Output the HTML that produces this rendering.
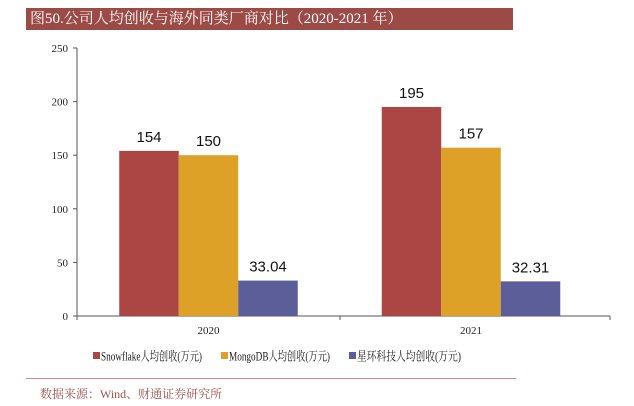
<!DOCTYPE html>
<html><head><meta charset="utf-8"><style>
body{margin:0;width:634px;height:406px;background:#fff;overflow:hidden;font-family:"Liberation Serif","Noto Serif CJK SC",serif;position:relative}
#title{position:absolute;left:26px;top:8px;width:487px;height:22px;background:#9b4a46;color:#fff;font-size:15px;line-height:22px;padding-left:4px;box-sizing:border-box}
#rule{position:absolute;left:26px;top:378px;width:490px;height:0;border-top:1px solid #c98b87}
#src{position:absolute;left:40px;top:385px;font-size:12px;color:#a0504a}
</style></head><body>
<div id="title">图50.公司人均创收与海外同类厂商对比（2020-2021 年）</div>
<svg id="chart" width="634" height="406" style="position:absolute;left:0;top:0"></svg>
<div id="rule"></div>
<div id="src">数据来源：Wind、财通证券研究所</div>
<script>
const categories=["2020","2021"];
const seriesNames=["Snowflake人均创收(万元)","MongoDB人均创收(万元)","星环科技人均创收(万元)"];
const snowflake=[154,195];
const mongodb=[150,157];
const xinghuan=[33.04,32.31];
const valueLabels=[["154","150","33.04"],["195","157","32.31"]];
const yTicks=[0,50,100,150,200,250];
const colors=["#ac4644","#dca126","#5b5e99"];
const NS="http://www.w3.org/2000/svg";
const svg=document.getElementById('chart');
const x0=77,x1=610,y0=316,yTop=48,yMax=250;
const y=v=>y0-(v/yMax)*(y0-yTop);
const cx=i=>208.5+i*262.5;
const bw=59.5;
function mk(t,a){const e=document.createElementNS(NS,t);for(const k in a)e.setAttribute(k,a[k]);svg.appendChild(e);return e;}
let e=mk('line',{x1:x0,y1:yTop,x2:x0,y2:y0,stroke:'#555'});


e=mk('line',{x1:x0,y1:y0,x2:x1,y2:y0,stroke:'#555'});


yTicks.forEach(t=>{
 mk('line',{x1:x0-4,y1:y(t),x2:x0,y2:y(t),stroke:'#555'});
 const tx=mk('text',{x:x0-9,y:y(t)+4,'text-anchor':'end','font-size':11,fill:'#222'});
 tx.textContent=t;
 
 
});
[x0,340,x1].forEach(px=>mk('line',{x1:px,y1:y0,x2:px,y2:y0+4,stroke:'#555'}));
const series=[snowflake,mongodb,xinghuan];
categories.forEach((c,i)=>{
 const t=mk('text',{x:cx(i),y:y0+18,'text-anchor':'middle','font-size':11,fill:'#222'});
 t.textContent=c;
 
 
 series.forEach((s,j)=>{
  const bx=cx(i)-bw*1.5+bw*j;
  const r=mk('rect',{x:bx,y:y(s[i]),width:bw,height:y0-y(s[i]),fill:colors[j]});
  
  
  const l=mk('text',{x:bx+bw/2,y:y(s[i])-9,'text-anchor':'middle','font-size':15,fill:'#111','font-family':'Liberation Sans, sans-serif'});
  l.textContent=valueLabels[i][j];
  
  
 });
});
const lx=[93,221,349];
const lw=[101,101,104];
seriesNames.forEach((n,j)=>{
 const r=mk('rect',{x:lx[j],y:352,width:7,height:7,fill:colors[j]});
 
 
 const t=mk('text',{x:lx[j]+8,y:360.5,'font-size':12.5,fill:'#222',textLength:lw[j],lengthAdjust:'spacingAndGlyphs'});
 t.textContent=n;
 
 
});
</script>
</body></html>
